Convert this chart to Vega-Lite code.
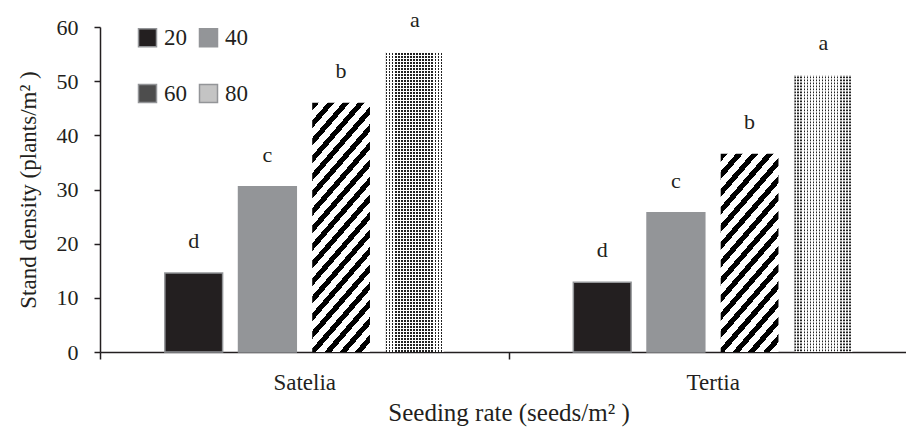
{
  "$schema": "https://vega.github.io/schema/vega-lite/v6.json",
  "width": 806,
  "height": 325,
  "autosize": {"type": "none"},
  "padding": {"left": 100, "top": 27, "right": 0, "bottom": 78},
  "config": {
    "font": "Liberation Serif",
    "view": {"stroke": null},
    "axis": {
      "domainColor": "#231f20", "tickColor": "#231f20", "labelColor": "#231f20", "titleColor": "#231f20",
      "domainWidth": 1.5, "tickWidth": 1.5, "titleFontWeight": "normal", "grid": false,
      "labelFont": "Liberation Serif", "titleFont": "Liberation Serif"
    }
  },
  "data": {
    "values": [
      {"cultivar": "Satelia", "rate": "20", "density": 14.6, "letter": "d"},
      {"cultivar": "Satelia", "rate": "40", "density": 30.5, "letter": "c"},
      {"cultivar": "Satelia", "rate": "60", "density": 46.0, "letter": "b"},
      {"cultivar": "Satelia", "rate": "80", "density": 55.4, "letter": "a"},
      {"cultivar": "Tertia", "rate": "20", "density": 12.9, "letter": "d"},
      {"cultivar": "Tertia", "rate": "40", "density": 25.7, "letter": "c"},
      {"cultivar": "Tertia", "rate": "60", "density": 36.6, "letter": "b"},
      {"cultivar": "Tertia", "rate": "80", "density": 51.1, "letter": "a"}
    ]
  },
  "encoding": {
    "x": {
      "field": "cultivar", "type": "nominal", "sort": ["Satelia", "Tertia"],
      "scale": {"range": [0, 817], "paddingInner": 0, "paddingOuter": 0},
      "axis": {
        "title": "Seeding rate (seeds/m² )", "labelAngle": 0, "tickBand": "extent",
        "tickSize": 7, "labelPadding": 12, "labelFontSize": 23, "titleFontSize": 25, "titlePadding": 6
      }
    },
    "xOffset": {"field": "rate", "type": "nominal", "scale": {"paddingInner": 0.216, "paddingOuter": 0.88}},
    "y": {
      "field": "density", "type": "quantitative",
      "scale": {"domain": [0, 60], "nice": false},
      "axis": {
        "title": "Stand density (plants/m² )", "values": [0, 10, 20, 30, 40, 50, 60],
        "tickSize": 6, "labelPadding": 16, "labelFontSize": 22, "titleFontSize": 23, "titlePadding": 16
      }
    }
  },
  "layer": [
    {
      "mark": {"type": "bar", "strokeWidth": 1.5},
      "encoding": {
        "fill": {
          "field": "rate", "type": "nominal",
          "scale": {"domain": ["20", "40", "60", "80"], "range": ["#231f20", "#939598", "#4d4d4d", "#c4c4c4"]},
          "condition": [
            {"test": "datum.rate === '60' && datum.cultivar === 'Satelia'", "value": {"gradient": "linear", "x1": 0, "y1": 0, "x2": 0.3166, "y2": 1.183, "stops": [
              {"offset":0,"color":"#000"},{"offset":0.025,"color":"#000"},{"offset":0.025,"color":"#fff"},{"offset":0.05556,"color":"#fff"},
              {"offset":0.05556,"color":"#000"},{"offset":0.08056,"color":"#000"},{"offset":0.08056,"color":"#fff"},{"offset":0.11111,"color":"#fff"},
              {"offset":0.11111,"color":"#000"},{"offset":0.13611,"color":"#000"},{"offset":0.13611,"color":"#fff"},{"offset":0.16667,"color":"#fff"},
              {"offset":0.16667,"color":"#000"},{"offset":0.19167,"color":"#000"},{"offset":0.19167,"color":"#fff"},{"offset":0.22222,"color":"#fff"},
              {"offset":0.22222,"color":"#000"},{"offset":0.24722,"color":"#000"},{"offset":0.24722,"color":"#fff"},{"offset":0.27778,"color":"#fff"},
              {"offset":0.27778,"color":"#000"},{"offset":0.30278,"color":"#000"},{"offset":0.30278,"color":"#fff"},{"offset":0.33333,"color":"#fff"},
              {"offset":0.33333,"color":"#000"},{"offset":0.35833,"color":"#000"},{"offset":0.35833,"color":"#fff"},{"offset":0.38889,"color":"#fff"},
              {"offset":0.38889,"color":"#000"},{"offset":0.41389,"color":"#000"},{"offset":0.41389,"color":"#fff"},{"offset":0.44444,"color":"#fff"},
              {"offset":0.44444,"color":"#000"},{"offset":0.46944,"color":"#000"},{"offset":0.46944,"color":"#fff"},{"offset":0.5,"color":"#fff"},
              {"offset":0.5,"color":"#000"},{"offset":0.525,"color":"#000"},{"offset":0.525,"color":"#fff"},{"offset":0.55556,"color":"#fff"},
              {"offset":0.55556,"color":"#000"},{"offset":0.58056,"color":"#000"},{"offset":0.58056,"color":"#fff"},{"offset":0.61111,"color":"#fff"},
              {"offset":0.61111,"color":"#000"},{"offset":0.63611,"color":"#000"},{"offset":0.63611,"color":"#fff"},{"offset":0.66667,"color":"#fff"},
              {"offset":0.66667,"color":"#000"},{"offset":0.69167,"color":"#000"},{"offset":0.69167,"color":"#fff"},{"offset":0.72222,"color":"#fff"},
              {"offset":0.72222,"color":"#000"},{"offset":0.74722,"color":"#000"},{"offset":0.74722,"color":"#fff"},{"offset":0.77778,"color":"#fff"},
              {"offset":0.77778,"color":"#000"},{"offset":0.80278,"color":"#000"},{"offset":0.80278,"color":"#fff"},{"offset":0.83333,"color":"#fff"},
              {"offset":0.83333,"color":"#000"},{"offset":0.85833,"color":"#000"},{"offset":0.85833,"color":"#fff"},{"offset":0.88889,"color":"#fff"},
              {"offset":0.88889,"color":"#000"},{"offset":0.91389,"color":"#000"},{"offset":0.91389,"color":"#fff"},{"offset":0.94444,"color":"#fff"},
              {"offset":0.94444,"color":"#000"},{"offset":0.96944,"color":"#000"},{"offset":0.96944,"color":"#fff"},{"offset":1,"color":"#fff"}
            ]}},
            {"test": "datum.rate === '60'", "value": {"gradient": "linear", "x1": 0, "y1": 0, "x2": 0.4038, "y2": 1.2005, "stops": [
              {"offset":0,"color":"#000"},{"offset":0.03,"color":"#000"},{"offset":0.03,"color":"#fff"},{"offset":0.06667,"color":"#fff"},
              {"offset":0.06667,"color":"#000"},{"offset":0.09667,"color":"#000"},{"offset":0.09667,"color":"#fff"},{"offset":0.13333,"color":"#fff"},
              {"offset":0.13333,"color":"#000"},{"offset":0.16333,"color":"#000"},{"offset":0.16333,"color":"#fff"},{"offset":0.2,"color":"#fff"},
              {"offset":0.2,"color":"#000"},{"offset":0.23,"color":"#000"},{"offset":0.23,"color":"#fff"},{"offset":0.26667,"color":"#fff"},
              {"offset":0.26667,"color":"#000"},{"offset":0.29667,"color":"#000"},{"offset":0.29667,"color":"#fff"},{"offset":0.33333,"color":"#fff"},
              {"offset":0.33333,"color":"#000"},{"offset":0.36333,"color":"#000"},{"offset":0.36333,"color":"#fff"},{"offset":0.4,"color":"#fff"},
              {"offset":0.4,"color":"#000"},{"offset":0.43,"color":"#000"},{"offset":0.43,"color":"#fff"},{"offset":0.46667,"color":"#fff"},
              {"offset":0.46667,"color":"#000"},{"offset":0.49667,"color":"#000"},{"offset":0.49667,"color":"#fff"},{"offset":0.53333,"color":"#fff"},
              {"offset":0.53333,"color":"#000"},{"offset":0.56333,"color":"#000"},{"offset":0.56333,"color":"#fff"},{"offset":0.6,"color":"#fff"},
              {"offset":0.6,"color":"#000"},{"offset":0.63,"color":"#000"},{"offset":0.63,"color":"#fff"},{"offset":0.66667,"color":"#fff"},
              {"offset":0.66667,"color":"#000"},{"offset":0.69667,"color":"#000"},{"offset":0.69667,"color":"#fff"},{"offset":0.73333,"color":"#fff"},
              {"offset":0.73333,"color":"#000"},{"offset":0.76333,"color":"#000"},{"offset":0.76333,"color":"#fff"},{"offset":0.8,"color":"#fff"},
              {"offset":0.8,"color":"#000"},{"offset":0.83,"color":"#000"},{"offset":0.83,"color":"#fff"},{"offset":0.86667,"color":"#fff"},
              {"offset":0.86667,"color":"#000"},{"offset":0.89667,"color":"#000"},{"offset":0.89667,"color":"#fff"},{"offset":0.93333,"color":"#fff"},
              {"offset":0.93333,"color":"#000"},{"offset":0.96333,"color":"#000"},{"offset":0.96333,"color":"#fff"},{"offset":1,"color":"#fff"}
            ]}},
            {"test": "datum.rate === '80'", "value": {"gradient": "linear", "x1": 0, "y1": 0, "x2": 1, "y2": 0, "stops": [
              {"offset":0,"color":"#222"},{"offset":0.02632,"color":"#222"},{"offset":0.02632,"color":"#fff"},{"offset":0.05263,"color":"#fff"},
              {"offset":0.05263,"color":"#222"},{"offset":0.07895,"color":"#222"},{"offset":0.07895,"color":"#fff"},{"offset":0.10526,"color":"#fff"},
              {"offset":0.10526,"color":"#222"},{"offset":0.13158,"color":"#222"},{"offset":0.13158,"color":"#fff"},{"offset":0.15789,"color":"#fff"},
              {"offset":0.15789,"color":"#222"},{"offset":0.18421,"color":"#222"},{"offset":0.18421,"color":"#fff"},{"offset":0.21053,"color":"#fff"},
              {"offset":0.21053,"color":"#222"},{"offset":0.23684,"color":"#222"},{"offset":0.23684,"color":"#fff"},{"offset":0.26316,"color":"#fff"},
              {"offset":0.26316,"color":"#222"},{"offset":0.28947,"color":"#222"},{"offset":0.28947,"color":"#fff"},{"offset":0.31579,"color":"#fff"},
              {"offset":0.31579,"color":"#222"},{"offset":0.34211,"color":"#222"},{"offset":0.34211,"color":"#fff"},{"offset":0.36842,"color":"#fff"},
              {"offset":0.36842,"color":"#222"},{"offset":0.39474,"color":"#222"},{"offset":0.39474,"color":"#fff"},{"offset":0.42105,"color":"#fff"},
              {"offset":0.42105,"color":"#222"},{"offset":0.44737,"color":"#222"},{"offset":0.44737,"color":"#fff"},{"offset":0.47368,"color":"#fff"},
              {"offset":0.47368,"color":"#222"},{"offset":0.5,"color":"#222"},{"offset":0.5,"color":"#fff"},{"offset":0.52632,"color":"#fff"},
              {"offset":0.52632,"color":"#222"},{"offset":0.55263,"color":"#222"},{"offset":0.55263,"color":"#fff"},{"offset":0.57895,"color":"#fff"},
              {"offset":0.57895,"color":"#222"},{"offset":0.60526,"color":"#222"},{"offset":0.60526,"color":"#fff"},{"offset":0.63158,"color":"#fff"},
              {"offset":0.63158,"color":"#222"},{"offset":0.65789,"color":"#222"},{"offset":0.65789,"color":"#fff"},{"offset":0.68421,"color":"#fff"},
              {"offset":0.68421,"color":"#222"},{"offset":0.71053,"color":"#222"},{"offset":0.71053,"color":"#fff"},{"offset":0.73684,"color":"#fff"},
              {"offset":0.73684,"color":"#222"},{"offset":0.76316,"color":"#222"},{"offset":0.76316,"color":"#fff"},{"offset":0.78947,"color":"#fff"},
              {"offset":0.78947,"color":"#222"},{"offset":0.81579,"color":"#222"},{"offset":0.81579,"color":"#fff"},{"offset":0.84211,"color":"#fff"},
              {"offset":0.84211,"color":"#222"},{"offset":0.86842,"color":"#222"},{"offset":0.86842,"color":"#fff"},{"offset":0.89474,"color":"#fff"},
              {"offset":0.89474,"color":"#222"},{"offset":0.92105,"color":"#222"},{"offset":0.92105,"color":"#fff"},{"offset":0.94737,"color":"#fff"},
              {"offset":0.94737,"color":"#222"},{"offset":0.97368,"color":"#222"},{"offset":0.97368,"color":"#fff"},{"offset":1,"color":"#fff"}
            ]}}
          ],
          "legend": {
            "title": null, "orient": "none", "legendX": 36, "legendY": -1, "columns": 2, "direction": "horizontal",
            "symbolType": "square", "symbolSize": 324, "symbolStrokeWidth": 1.5, "symbolStrokeColor": "#939598",
            "labelFont": "Liberation Serif", "labelFontSize": 23, "labelColor": "#231f20", "labelOffset": 5,
            "columnPadding": 9, "rowPadding": 31, "padding": 0
          }
        },
        "stroke": {"condition": {"test": "datum.rate === '20' || datum.rate === '40'", "value": "#939598"}, "value": null}
      }
    },
    {
      "transform": [{"filter": "datum.rate === '80'"}],
      "mark": {"type": "rule", "stroke": "#ffffff", "strokeWidth": 58, "strokeDash": [1.2, 1.8], "strokeCap": "butt"},
      "encoding": {
        "y2": {"datum": 0}
      }
    },
    {
      "mark": {"type": "text", "baseline": "alphabetic", "dy": -25, "fontSize": 22, "font": "Liberation Serif", "color": "#231f20"},
      "encoding": {
        "text": {"field": "letter"}
      }
    }
  ]
}
